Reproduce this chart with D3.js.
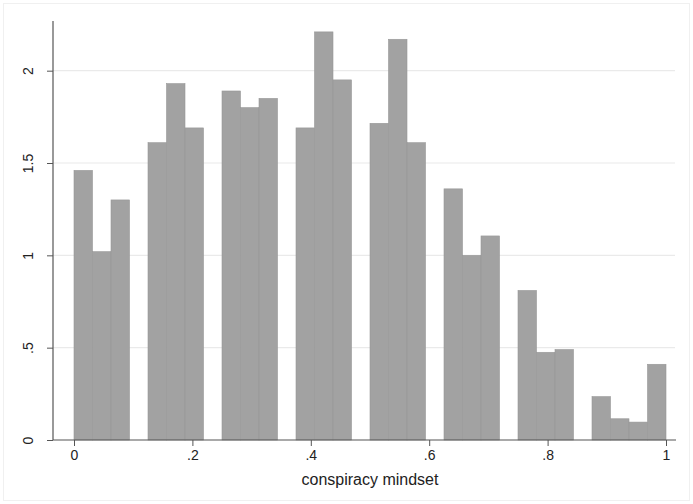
<!DOCTYPE html>
<html><head><meta charset="utf-8">
<script src="https://cdn.jsdelivr.net/npm/d3@7"></script>
<style>body{margin:0;background:#fff}svg{display:block}</style>
</head><body>
<script>
// Histogram: 32 bins of width 1/32 over [0,1], density
const binStarts = d3.range(32).map(i => i / 32);
const densities = [1.46, 1.02, 1.30, 0,
                   1.61, 1.93, 1.69, 0,
                   1.89, 1.80, 1.85, 0,
                   1.69, 2.21, 1.95, 0,
                   1.715, 2.17, 1.61, 0,
                   1.36, 1.00, 1.105, 0,
                   0.81, 0.475, 0.49, 0,
                   0.235, 0.115, 0.097, 0.41];
const xTicks = [0, 0.2, 0.4, 0.6, 0.8, 1];
const xTickLabels = ["0", ".2", ".4", ".6", ".8", "1"];
const yTicks = [0, 0.5, 1, 1.5, 2];
const yTickLabels = ["0", ".5", "1", "1.5", "2"];
const xTitle = "conspiracy mindset";
const binWidth = 1 / 32;

const W = 693, H = 504;
const svg = d3.select("body").append("svg").attr("width", W).attr("height", H);

// faint outer frame
svg.append("rect").attr("x", 3.5).attr("y", 3.5).attr("width", W - 7).attr("height", H - 7)
  .attr("fill", "none").attr("stroke", "#f0f0f0").attr("stroke-width", 1);

const x = d3.scaleLinear().domain([0, 1]).range([74, 666]);
const y = d3.scaleLinear().domain([0, 2.269]).range([440, 21]);
const axLeft = 53, axRight = 676;

// gridlines
svg.append("g").selectAll("line").data(yTicks.filter(d => d > 0)).join("line")
  .attr("x1", axLeft).attr("x2", axRight - 1)
  .attr("y1", d => y(d)).attr("y2", d => y(d))
  .attr("stroke", "#eaeaea").attr("stroke-width", 1.2);

// bars
const bins = binStarts.map((s, i) => ({x0: s, x1: s + binWidth, v: densities[i]})).filter(d => d.v > 0);
svg.append("g").selectAll("rect").data(bins).join("rect")
  .attr("x", d => x(d.x0)).attr("width", d => x(d.x1) - x(d.x0))
  .attr("y", d => y(d.v)).attr("height", d => y(0) - y(d.v))
  .attr("fill", "#a2a2a2").attr("stroke", "#989898").attr("stroke-width", 0.6);

// axes
const xAxis = d3.axisBottom(x).tickValues(xTicks).tickFormat((d, i) => xTickLabels[i]).tickSize(6).tickPadding(4);
const gx = svg.append("g").attr("transform", `translate(0,${y(0)})`).call(xAxis);
gx.select(".domain").remove();
gx.append("line").attr("x1", axLeft).attr("x2", axRight).attr("y1", 0).attr("y2", 0)
  .attr("stroke", "#555").attr("stroke-width", 1.2);
gx.selectAll(".tick line").attr("stroke", "#555");
gx.selectAll(".tick text").attr("font-family", "Liberation Sans, Arial, sans-serif")
  .attr("font-size", 14).attr("fill", "#222");

const yAxis = d3.axisLeft(y).tickValues(yTicks).tickFormat((d, i) => yTickLabels[i]).tickSize(6).tickPadding(0);
const gy = svg.append("g").attr("transform", `translate(${axLeft},0)`).call(yAxis);
gy.select(".domain").remove();
gy.append("line").attr("x1", 0).attr("x2", 0).attr("y1", y(0)).attr("y2", 21)
  .attr("stroke", "#555").attr("stroke-width", 1.2);
gy.selectAll(".tick line").attr("stroke", "#555");
gy.selectAll(".tick text")
  .attr("x", 0).attr("dy", null).attr("text-anchor", "middle")
  .attr("transform", "translate(-20,0) rotate(-90)")
  .attr("font-family", "Liberation Sans, Arial, sans-serif")
  .attr("font-size", 14).attr("fill", "#222");

// x title
svg.append("text").attr("x", (x(0) + x(1)) / 2).attr("y", 485)
  .attr("text-anchor", "middle").attr("font-family", "Liberation Sans, Arial, sans-serif")
  .attr("font-size", 16).attr("fill", "#222").text(xTitle);
</script>
</body></html>
